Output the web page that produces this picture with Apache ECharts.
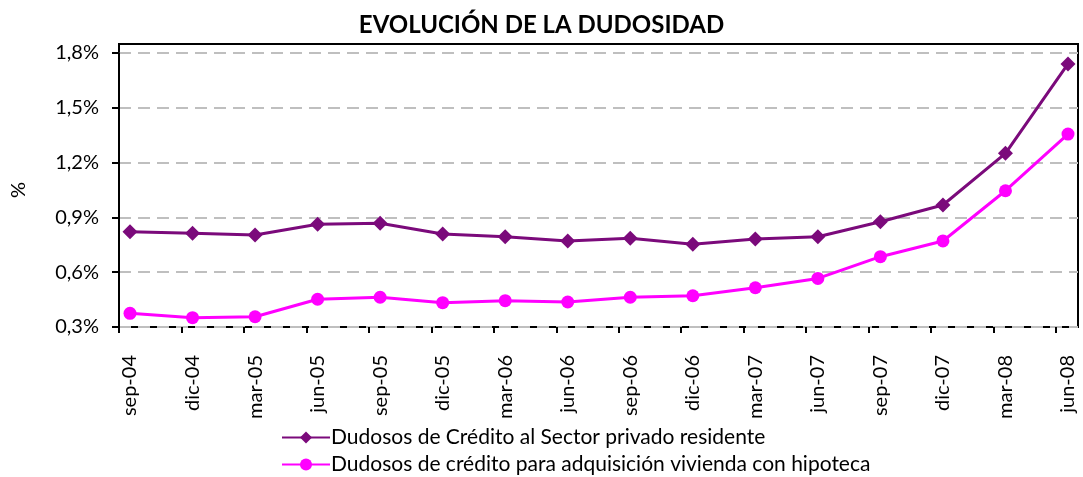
<!DOCTYPE html>
<html>
<head>
<meta charset="utf-8">
<script src="https://cdn.jsdelivr.net/npm/echarts@6/dist/echarts.min.js"></script>
<style>
  html, body { margin: 0; padding: 0; background: #fff; }
  #myChart { width: 1083px; height: 477px; }
</style>
</head>
<body>
<div id="myChart"></div>
<script>
// categorías (trimestres)
const categories = ['sep-04', 'dic-04', 'mar-05', 'jun-05', 'sep-05', 'dic-05', 'mar-06', 'jun-06',
    'sep-06', 'dic-06', 'mar-07', 'jun-07', 'sep-07', 'dic-07', 'mar-08', 'jun-08'];
// Dudosos de Crédito al Sector privado residente (%)
const sectorPrivado = [0.822, 0.813, 0.804, 0.862, 0.868, 0.809, 0.794, 0.771,
    0.786, 0.753, 0.782, 0.794, 0.876, 0.968, 1.251, 1.740];
// Dudosos de crédito para adquisición vivienda con hipoteca (%)
const viviendaHipoteca = [0.375, 0.351, 0.356, 0.452, 0.463, 0.433, 0.444, 0.437,
    0.463, 0.471, 0.515, 0.566, 0.685, 0.771, 1.046, 1.356];
const yMin = 0.3, yMax = 1.8, yStep = 0.3;

const nameA = 'Dudosos de Crédito al Sector privado residente';
const nameB = 'Dudosos de crédito para adquisición vivienda con hipoteca';

const font = 'Lato, "Liberation Sans", sans-serif';
const chart = echarts.init(document.getElementById('myChart'));

const legendBase = {
    orient: 'horizontal',
    left: 276,
    padding: [2, 5, 0, 5],
    itemWidth: 48,
    itemHeight: 15,
    itemGap: 4,
    textStyle: { fontFamily: font, fontSize: 21, color: '#000', padding: [0, 0, 0, -4] }
};

let option = {
    animation: false,
    textStyle: { fontFamily: font, color: '#000' },
    title: {
        text: 'EVOLUCIÓN DE LA DUDOSIDAD',
        left: 'center',
        top: 8,
        textStyle: { fontFamily: font, fontSize: 24, fontWeight: 'bold', color: '#000' }
    },
    legend: [
        Object.assign({}, legendBase, { top: 425, data: [nameA] }),
        Object.assign({}, legendBase, { top: 452, data: [nameB] })
    ],
    grid: [
        // datos
        { left: 130, right: 15, top: 53, bottom: 150 },
        // marco
        { left: 119, right: 5, top: 44, bottom: 150, show: true, borderColor: '#000', borderWidth: 2 },
        // eje y + líneas de división
        { left: 119, right: 5, top: 53, bottom: 150 },
        // marcas del eje x
        { left: 119, right: 27, top: 53, bottom: 150 }
    ],
    xAxis: [
        {
            gridIndex: 0, type: 'category', data: categories, boundaryGap: false,
            axisLine: { show: false }, axisTick: { show: false },
            axisLabel: { rotate: 90, fontSize: 20, color: '#000', margin: 28, fontFamily: font }
        },
        { gridIndex: 1, type: 'value', show: false },
        { gridIndex: 2, type: 'value', show: false },
        {
            gridIndex: 3, type: 'category', data: categories, boundaryGap: false,
            axisLine: { show: false },
            axisTick: { show: true, length: 6, lineStyle: { color: '#000', width: 2 } },
            axisLabel: { show: false }
        }
    ],
    yAxis: [
        { gridIndex: 0, type: 'value', min: yMin, max: yMax, show: false },
        { gridIndex: 1, type: 'value', show: false },
        {
            gridIndex: 2, type: 'value', min: yMin, max: yMax, interval: yStep,
            name: '%', nameLocation: 'middle', nameRotate: 90, nameGap: 90,
            nameTextStyle: { fontSize: 20, color: '#000', fontFamily: font },
            axisLine: { show: true, lineStyle: { color: '#000', width: 2 } },
            axisTick: { show: true, length: 7, lineStyle: { color: '#000', width: 2 } },
            axisLabel: {
                fontSize: 20, color: '#000', margin: 20, fontFamily: font,
                formatter: v => v.toFixed(1).replace('.', ',') + '%'
            },
            splitLine: { show: true, lineStyle: { color: '#BFBFBF', width: 2, type: [12, 7] } }
        },
        { gridIndex: 3, type: 'value', min: yMin, max: yMax, show: false }
    ],
    series: [
        {
            name: nameA,
            type: 'line',
            xAxisIndex: 0, yAxisIndex: 0,
            data: sectorPrivado,
            symbol: 'diamond', symbolSize: 15,
            itemStyle: { color: '#7B0A7B' },
            lineStyle: { color: '#7B0A7B', width: 3 }
        },
        {
            name: nameB,
            type: 'line',
            xAxisIndex: 0, yAxisIndex: 0,
            data: viviendaHipoteca,
            symbol: 'circle', symbolSize: 13,
            itemStyle: { color: '#FF00FF' },
            lineStyle: { color: '#FF00FF', width: 3 }
        }
    ]
};
chart.setOption(option);
</script>
</body>
</html>
